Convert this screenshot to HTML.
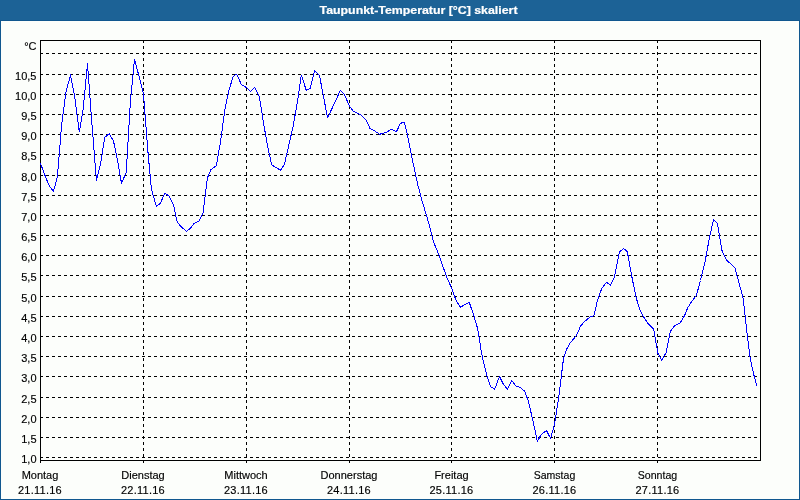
<!DOCTYPE html>
<html lang="de">
<head>
<meta charset="utf-8">
<title>Taupunkt-Temperatur [°C] skaliert</title>
<style>
html,body{margin:0;padding:0;background:#1c6296;}
body{width:800px;height:500px;overflow:hidden;position:relative;}
svg{position:absolute;left:0;top:0;display:block;}
text{font-family:"Liberation Sans", "DejaVu Sans", sans-serif;font-size:11px;fill:#000;stroke:#000;stroke-width:0.15px;}
.title{font-weight:bold;fill:#fff;stroke:#fff;stroke-width:0.2px;font-size:11px;}
.grid{stroke:#000;stroke-width:1;stroke-dasharray:3 3;fill:none;}
.ax{stroke:#000;stroke-width:1;fill:none;}
.data{stroke:#0000ff;stroke-width:1;fill:none;stroke-linejoin:round;}
</style>
</head>
<body>
<svg width="800" height="500" viewBox="0 0 800 500" shape-rendering="crispEdges">
<rect x="0" y="0" width="800" height="500" fill="#1c6296"/>
<rect x="0" y="20" width="800" height="480" fill="#10578f"/>
<rect x="1" y="21" width="798" height="478" fill="#fcfefb"/>
<text class="title" x="418.5" y="13.5" text-anchor="middle" textLength="198" lengthAdjust="spacingAndGlyphs">Taupunkt-Temperatur [°C] skaliert</text>
<g class="grid">
<line x1="40" y1="53.5" x2="760" y2="53.5"/>
<line x1="40" y1="74.5" x2="760" y2="74.5"/>
<line x1="40" y1="94.5" x2="760" y2="94.5"/>
<line x1="40" y1="114.5" x2="760" y2="114.5"/>
<line x1="40" y1="134.5" x2="760" y2="134.5"/>
<line x1="40" y1="154.5" x2="760" y2="154.5"/>
<line x1="40" y1="175.5" x2="760" y2="175.5"/>
<line x1="40" y1="195.5" x2="760" y2="195.5"/>
<line x1="40" y1="215.5" x2="760" y2="215.5"/>
<line x1="40" y1="235.5" x2="760" y2="235.5"/>
<line x1="40" y1="255.5" x2="760" y2="255.5"/>
<line x1="40" y1="275.5" x2="760" y2="275.5"/>
<line x1="40" y1="296.5" x2="760" y2="296.5"/>
<line x1="40" y1="316.5" x2="760" y2="316.5"/>
<line x1="40" y1="336.5" x2="760" y2="336.5"/>
<line x1="40" y1="356.5" x2="760" y2="356.5"/>
<line x1="40" y1="376.5" x2="760" y2="376.5"/>
<line x1="40" y1="397.5" x2="760" y2="397.5"/>
<line x1="40" y1="417.5" x2="760" y2="417.5"/>
<line x1="40" y1="437.5" x2="760" y2="437.5"/>
<line x1="40" y1="457.5" x2="760" y2="457.5"/>
<line x1="143.5" y1="40" x2="143.5" y2="460"/>
<line x1="246.5" y1="40" x2="246.5" y2="460"/>
<line x1="349.5" y1="40" x2="349.5" y2="460"/>
<line x1="451.5" y1="40" x2="451.5" y2="460"/>
<line x1="554.5" y1="40" x2="554.5" y2="460"/>
<line x1="657.5" y1="40" x2="657.5" y2="460"/>
</g>
<g class="ax">
<rect x="40.5" y="40.5" width="720" height="420"/>
<line x1="40.5" y1="460" x2="40.5" y2="463"/>
<line x1="143.5" y1="460" x2="143.5" y2="463"/>
<line x1="246.5" y1="460" x2="246.5" y2="463"/>
<line x1="349.5" y1="460" x2="349.5" y2="463"/>
<line x1="451.5" y1="460" x2="451.5" y2="463"/>
<line x1="554.5" y1="460" x2="554.5" y2="463"/>
<line x1="657.5" y1="460" x2="657.5" y2="463"/>
</g>
<polyline class="data" points="40.5,163.5 44.8,175 49.1,185.5 53.4,191.5 57.4,177 61.6,125 65.9,92.5 70.5,75 74.5,95.5 79.3,132 83.3,108 87.5,63.6 91.4,117 96.4,180.2 100.5,164 104.8,137.3 109.2,133.7 113.5,141 117.7,161.5 121.5,183.3 126.2,172.6 130.5,100 134.5,59.6 139.1,76.5 143.5,94 147.7,149 151.3,188.5 156.3,206.4 160.5,203.3 164.5,193.4 169,195.8 173.4,204.5 177.2,222.2 181.9,227.5 186.5,231.3 190.4,228.3 193.8,223.8 199.2,220.7 202.9,213.5 207.5,177.6 210.9,169.8 216.3,165.6 220.5,142 224.8,110 229.1,89.5 233.3,76.3 236.6,74.2 241.5,84.7 246.3,87.5 250.3,91.5 254.6,87.5 259.3,96.2 263.4,122 267.6,146.5 271.7,164.9 276.2,167.7 280.5,170.2 284.3,164.7 289.1,144 293.4,125 297.9,98.5 301.3,75.2 306.3,90.3 310.2,88.3 314.6,70.5 319.4,75.2 323.4,96 327.6,118 340.3,90.5 344.6,94.8 349.1,105.5 353.3,111.2 357.6,113.2 361.3,115 366.3,120.1 370.2,128.8 374.5,130.9 379.6,134.3 386.6,132.2 391.4,129.3 396.4,131.8 400.5,123.3 404.2,122.2 407.2,134 413.4,164.5 417.6,184 421.9,200.5 426.3,214.8 430.5,229.5 433.6,242 439.1,255.2 443.4,267.8 447.6,279.3 452,288.9 455.8,299.8 460.3,307.2 469.2,302.2 473.8,315.5 477.6,328.5 481.9,355 486.6,374.5 490.7,386.8 494.7,389.2 499.5,376.5 503.2,384 507.5,389.2 511.7,380.4 516.1,386.2 520.5,387.5 524.8,391.4 528.6,402 533.2,422 537.4,441.3 541.2,434.5 546.5,430.6 550.6,438.5 554.6,424 558.8,396.5 563.6,357.8 566.8,349 570.5,342.5 576.4,335.7 580.7,325.8 584.5,321.6 589.5,317.4 594,315.4 597.7,299.5 601.9,288.2 606.5,282.4 610.5,285.1 614.4,277 619.5,252 623.5,248.6 627.3,251.5 631.8,276.5 636.2,298 640.6,311.6 644.8,319 649.1,324.8 653.7,329.2 657.8,353 661.6,360.4 666,353 670.4,331.2 674.5,325.8 680.4,322.6 684.8,315.1 687.6,307.9 691.9,301.3 696.4,295.3 700.5,280.5 705.1,261.5 709.3,238.5 713.5,219.5 717.5,223.6 721.8,250 726.5,260.2 730.5,263.6 734.8,267.5 739.3,284 743.2,298.5 747.4,336 750.2,358.5 754.2,376.3 756.6,385.5"/>
<g text-anchor="end">
<text x="36.5" y="50">°C</text>
<text x="36.5" y="80">10,5</text>
<text x="36.5" y="100">10,0</text>
<text x="36.5" y="120">9,5</text>
<text x="36.5" y="140">9,0</text>
<text x="36.5" y="160">8,5</text>
<text x="36.5" y="181">8,0</text>
<text x="36.5" y="201">7,5</text>
<text x="36.5" y="221">7,0</text>
<text x="36.5" y="241">6,5</text>
<text x="36.5" y="261">6,0</text>
<text x="36.5" y="281">5,5</text>
<text x="36.5" y="302">5,0</text>
<text x="36.5" y="322">4,5</text>
<text x="36.5" y="342">4,0</text>
<text x="36.5" y="362">3,5</text>
<text x="36.5" y="382">3,0</text>
<text x="36.5" y="403">2,5</text>
<text x="36.5" y="423">2,0</text>
<text x="36.5" y="443">1,5</text>
<text x="36.5" y="463">1,0</text>
</g>
<g text-anchor="middle">
<text x="40" y="479">Montag</text>
<text x="40" y="494" letter-spacing="0.25">21.11.16</text>
<text x="143" y="479">Dienstag</text>
<text x="143" y="494" letter-spacing="0.25">22.11.16</text>
<text x="246" y="479">Mittwoch</text>
<text x="246" y="494" letter-spacing="0.25">23.11.16</text>
<text x="349" y="479">Donnerstag</text>
<text x="349" y="494" letter-spacing="0.25">24.11.16</text>
<text x="451.5" y="479">Freitag</text>
<text x="451.5" y="494" letter-spacing="0.25">25.11.16</text>
<text x="554.5" y="479" textLength="41.5" lengthAdjust="spacingAndGlyphs">Samstag</text>
<text x="554.5" y="494" letter-spacing="0.25">26.11.16</text>
<text x="657.5" y="479" textLength="39.5" lengthAdjust="spacingAndGlyphs">Sonntag</text>
<text x="657.5" y="494" letter-spacing="0.25">27.11.16</text>
</g>
</svg>
</body>
</html>
